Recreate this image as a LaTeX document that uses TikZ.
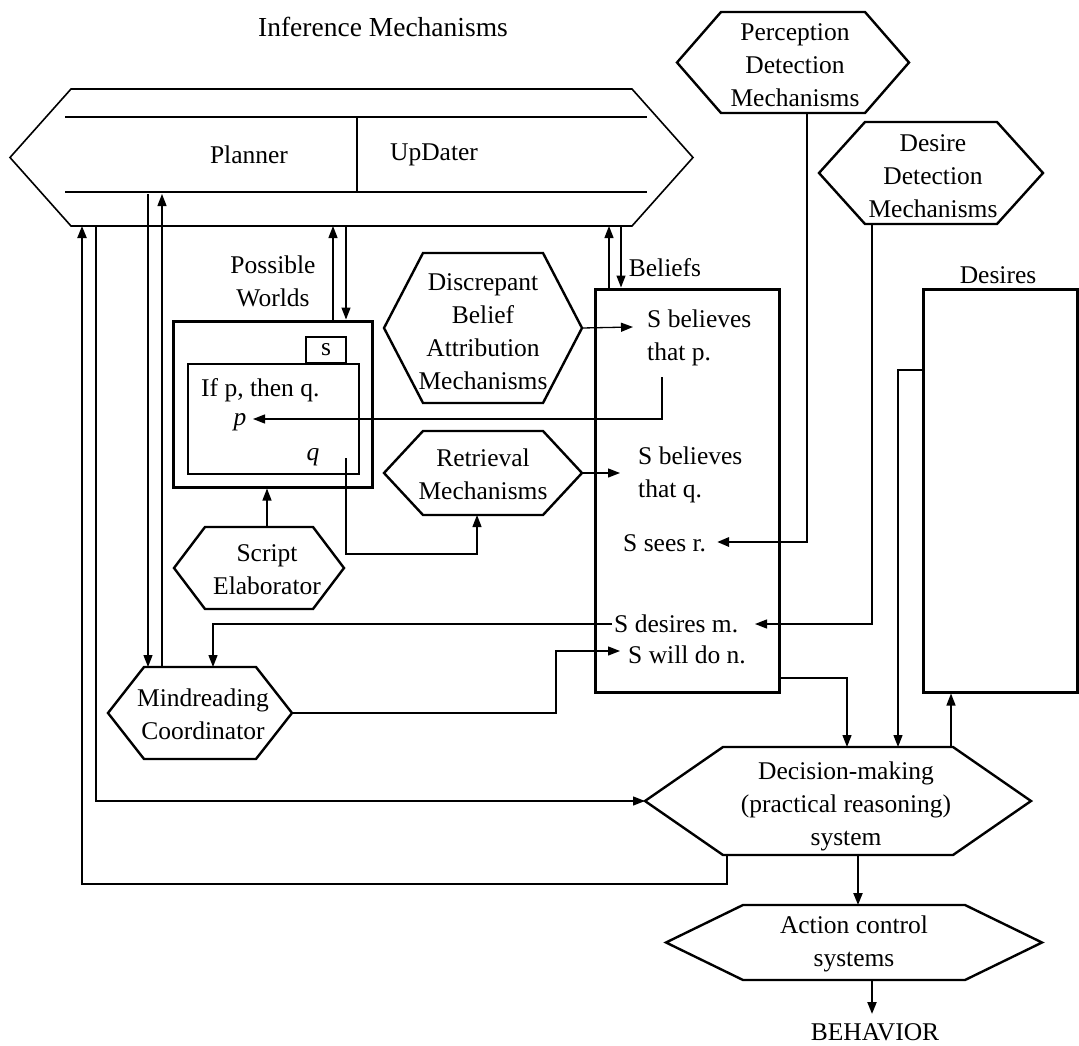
\documentclass[tikz,border=0pt]{standalone}
\usepackage{fontspec}
\setmainfont{Liberation Serif}
\usetikzlibrary{arrows.meta}

% Irregular hexagon: name, centre x, centre y, half top width, half tip width, half height, style
\newcommand{\hexoutline}[7]{%
  \draw[#7] (#2-#4,#3-#6) -- (#2+#4,#3-#6) -- (#2+#5,#3) -- (#2+#4,#3+#6)
    -- (#2-#4,#3+#6) -- (#2-#5,#3) -- cycle;
  \coordinate (#1-w) at (#2-#5,#3);
  \coordinate (#1-e) at (#2+#5,#3);
}

\begin{document}
\begin{tikzpicture}[x=1pt,y=-1pt,
  every node/.style={font=\fontsize{25.5}{33}\selectfont, inner sep=2pt},
  wire/.style={line width=1.3pt},
  midwire/.style={line width=2.2pt},
  heavywire/.style={line width=2.8pt},
  tip/.style={-{Triangle[length=12pt,width=9pt]}},
  hexedge/.style={line width=2.4pt, line join=miter},
  hexedgelight/.style={line width=1.6pt},
  boxedge/.style={draw, line width=3pt, inner sep=0pt},
  thinbox/.style={draw, line width=1.5pt, inner sep=0pt},
  textl/.style={anchor=west, align=left}
]
\useasboundingbox (0,0) rectangle (1079,1046);
\fill[white] (0,0) rectangle (1079,1046);

% ---------- Inference mechanisms ----------
\node[font=\fontsize{27.5}{33}\selectfont] (infttl) at (383,27) {Inference Mechanisms};
\hexoutline{inf}{351.5}{157.5}{280.5}{341.5}{68.5}{hexedgelight}
\draw[wire] (65,117) -- (647,117);
\draw[wire] (65,192) -- (647,192);
\draw[wire] (357,117) -- (357,192);
\node (planner) at (249,155) {Planner};
\node (updater) at (434,155) {UpDater};
\coordinate (infA) at (82,226);
\coordinate (infB) at (96,226);
\coordinate (infC) at (148,194);
\coordinate (infD) at (162,194);
\coordinate (infE) at (333,226);
\coordinate (infF) at (346,226);
\coordinate (infG) at (609,226);
\coordinate (infH) at (621,226);

% ---------- Detection mechanisms ----------
\hexoutline{perc}{793}{62.5}{72}{116}{50.5}{hexedge}
\node[align=center] (perctxt) at (795,65) {Perception\\Detection\\Mechanisms};
\coordinate (percS) at (807,113);

\hexoutline{ddet}{931}{173}{66}{112}{51}{hexedge}
\node[align=center] (ddettxt) at (933,176) {Desire\\Detection\\Mechanisms};
\coordinate (ddetS) at (872,224);

% ---------- Middle column ----------
\hexoutline{disc}{483}{328}{60}{99}{75}{hexedge}
\node[align=center] (disctxt) at (483,332) {Discrepant\\Belief\\Attribution\\Mechanisms};

\hexoutline{retr}{483}{473}{60}{99}{42}{hexedge}
\node[align=center] (retrtxt) at (483,474) {Retrieval\\Mechanisms};
\coordinate (retrS) at (477,515);

\hexoutline{scr}{259}{568}{54}{85}{41}{hexedge}
\node[align=center] (scrtxt) at (267,570) {Script\\Elaborator};
\coordinate (scrN) at (267,527);

\hexoutline{mind}{200}{713}{56}{92}{46}{hexedge}
\node[align=center] (mindtxt) at (203,714) {Mindreading\\Coordinator};
\coordinate (mindA) at (148,667);
\coordinate (mindB) at (162,667);
\coordinate (mindC) at (213,667);

% ---------- Possible worlds ----------
\node[align=center] (pwlbl) at (273,281) {Possible\\Worlds};
\node[boxedge, minimum width=199pt, minimum height=166pt] (pw) at (272.5,404) {};
\node[thinbox, minimum width=171pt, minimum height=110pt] (pwin) at (273.5,419) {};
\node[thinbox, minimum width=40pt, minimum height=26pt] (sbox) at (326,350) {s};
\node[anchor=west] (ifpq) at (199,390) {If p, then q.};
\node (pvar) at (240,422) {\itshape p};
\node (qvar) at (313,457) {\itshape q};
\coordinate (pIn) at (253,419);
\coordinate (qout) at (346,458);
\coordinate (qlow) at (346,554);

% ---------- Beliefs ----------
\node (beltitle) at (665,268) {Beliefs};
\node[boxedge, minimum width=184pt, minimum height=403pt] (bel) at (687,490.5) {};
\node[textl] (bp) at (645,338) {S believes\\that p.};
\node[textl] (bq) at (636,475) {S believes\\that q.};
\node[textl] (sr) at (621,543) {S sees r.};
\node[textl] (dm) at (612,624) {S desires m.};
\node[textl] (wn) at (626,655) {S will do n.};
\coordinate (bpIn) at (633,327);
\coordinate (bqIn) at (620,473);
\coordinate (bpS) at (662,377);
\coordinate (srIn) at (717,542);
\coordinate (dmIn) at (755,624);
\coordinate (wnIn) at (620,651);
\coordinate (jog) at (556,651);
\coordinate (belOut) at (779,678);

% ---------- Desires ----------
\node (destitle) at (998,275) {Desires};
\node[boxedge, minimum width=154pt, minimum height=403pt] (des) at (1000,490.5) {};
\coordinate (desOut) at (923,370);

% ---------- Decision and action ----------
\hexoutline{dec}{838}{801}{115}{193}{54}{hexedge}
\node[align=center] (dectxt) at (846,806) {Decision-making\\(practical reasoning)\\system};
\coordinate (decA) at (847,747);
\coordinate (decB) at (898,747);
\coordinate (decC) at (951,747);
\coordinate (decD) at (727,855);
\coordinate (decE) at (858,855);

\hexoutline{act}{854}{942.5}{111}{188}{37.5}{hexedge}
\node[align=center] (acttxt) at (854,944) {Action control\\systems};
\coordinate (actN) at (858,905);
\coordinate (actS) at (872,980);
\node (behav) at (875,1032) {BEHAVIOR};
\coordinate (behavIn) at (872,1014);
\coordinate (lowrow) at (0,884);

% ---------- Connectors ----------
\draw[midwire, tip] (decD) -- (decD |- lowrow) -| (infA);
\draw[wire, tip] (infB) |- (dec-w);
\draw[wire, tip] (infC) -- (mindA);
\draw[wire, tip] (mindB) -- (infD);
\draw[wire, tip] (pw.north -| infE) -- (infE);
\draw[wire, tip] (infF) -- (pw.north -| infF);
\draw[wire, tip] (bel.north -| infG) -- (infG);
\draw[wire, tip] (infH) -- (bel.north -| infH);
\draw[wire, tip] (disc-e) -- (bpIn);
\draw[wire, tip] (retr-e) -- (bqIn);
\draw[wire, tip] (bpS) |- (pIn);
\draw[wire, tip] (qout) -- (qlow) -| (retrS);
\draw[wire, tip] (scrN) -- (scrN |- pw.south);
\draw[heavywire, tip] (percS) |- (srIn);
\draw[wire, tip] (ddetS) |- (dmIn);
\draw[wire, tip] (dm.west) -| (mindC);
\draw[wire, tip] (mind-e) -| (jog) -- (wnIn);
\draw[wire, tip] (belOut) -| (decA);
\draw[wire, tip] (desOut) -| (decB);
\draw[wire, tip] (decC) -- (decC |- des.south);
\draw[midwire, tip] (decE) -- (actN);
\draw[midwire, tip] (actS) -- (behavIn);
\end{tikzpicture}
\end{document}
